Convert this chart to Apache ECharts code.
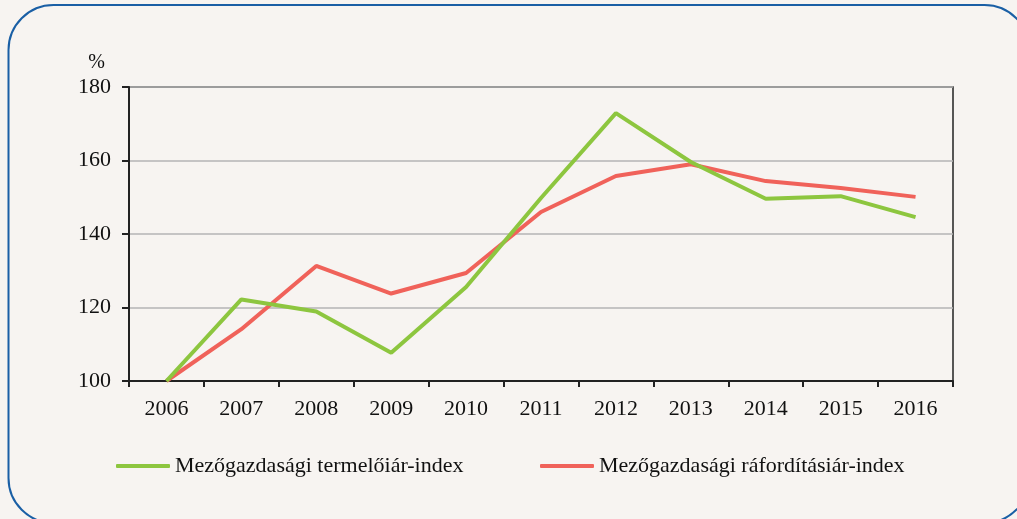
<!DOCTYPE html>
<html>
<head>
<meta charset="utf-8">
<script src="https://cdn.jsdelivr.net/npm/echarts@6/dist/echarts.min.js"></script>
<style>
  html, body { margin: 0; padding: 0; background: #f7f4f1; }
  #chart { width: 1017px; height: 519px; }
</style>
</head>
<body>
<div id="chart"></div>
<script>
const years = ["2006", "2007", "2008", "2009", "2010", "2011", "2012", "2013", "2014", "2015", "2016"];
const producerIndex = [100, 122.2, 118.9, 107.7, 125.6, 149.8, 172.9, 159.6, 149.6, 150.3, 144.6];
const inputIndex = [100, 114.1, 131.3, 123.8, 129.4, 146.0, 155.8, 159.0, 154.4, 152.5, 150.1];
const seriesNames = ["Mezőgazdasági termelőiár-index", "Mezőgazdasági ráfordításiár-index"];

const font = "'Liberation Serif', 'DejaVu Serif', serif";
const chart = echarts.init(document.getElementById("chart"));

chart.setOption({
  backgroundColor: "#f7f4f1",
  textStyle: { fontFamily: font },
  graphic: [
    {
      type: "rect",
      shape: { x: 8.5, y: 5, width: 1021, height: 518, r: 45 },
      style: { fill: "none", stroke: "#1a5fa5", lineWidth: 2 },
      silent: true
    }
  ],
  grid: {
    left: 129, right: 64, top: 87, bottom: 138,
    show: true, borderColor: "#222", borderWidth: 1.5
  },
  legend: [
    {
      data: [seriesNames[0]],
      left: 111, top: 450,
      itemWidth: 54, itemHeight: 4, icon: "roundRect",
      textStyle: { fontFamily: font, fontSize: 22, color: "#111" }
    },
    {
      data: [seriesNames[1]],
      left: 535, top: 450,
      itemWidth: 54, itemHeight: 4, icon: "roundRect",
      textStyle: { fontFamily: font, fontSize: 22, color: "#111" }
    }
  ],
  xAxis: {
    type: "category",
    data: years,
    boundaryGap: true,
    axisLine: { lineStyle: { color: "#222", width: 2 } },
    axisTick: { show: true, length: 6, inside: false, lineStyle: { color: "#222", width: 2 } },
    axisLabel: { color: "#111", fontSize: 22, fontFamily: font, margin: 17 }
  },
  yAxis: {
    type: "value",
    min: 100, max: 180, interval: 20,
    name: "%",
    nameLocation: "end",
    nameGap: 14,
    nameTextStyle: { color: "#111", fontSize: 20, fontFamily: font, align: "right", padding: [0, 24, 0, 0] },
    axisLine: { show: true, lineStyle: { color: "#222", width: 2 } },
    axisTick: { show: true, length: 7, lineStyle: { color: "#222", width: 2 } },
    axisLabel: { color: "#111", fontSize: 22, fontFamily: font, margin: 18 },
    splitLine: { show: true, lineStyle: { color: "#b5b5b5", width: 1.5 } }
  },
  series: [
    {
      name: seriesNames[0],
      type: "line",
      data: producerIndex,
      symbol: "none",
      itemStyle: { color: "#8dc63f" },
      lineStyle: { color: "#8dc63f", width: 4 },
      z: 3
    },
    {
      name: seriesNames[1],
      type: "line",
      data: inputIndex,
      symbol: "none",
      itemStyle: { color: "#f0625a" },
      lineStyle: { color: "#f0625a", width: 4 },
      z: 2
    }
  ]
});
</script>
</body>
</html>
